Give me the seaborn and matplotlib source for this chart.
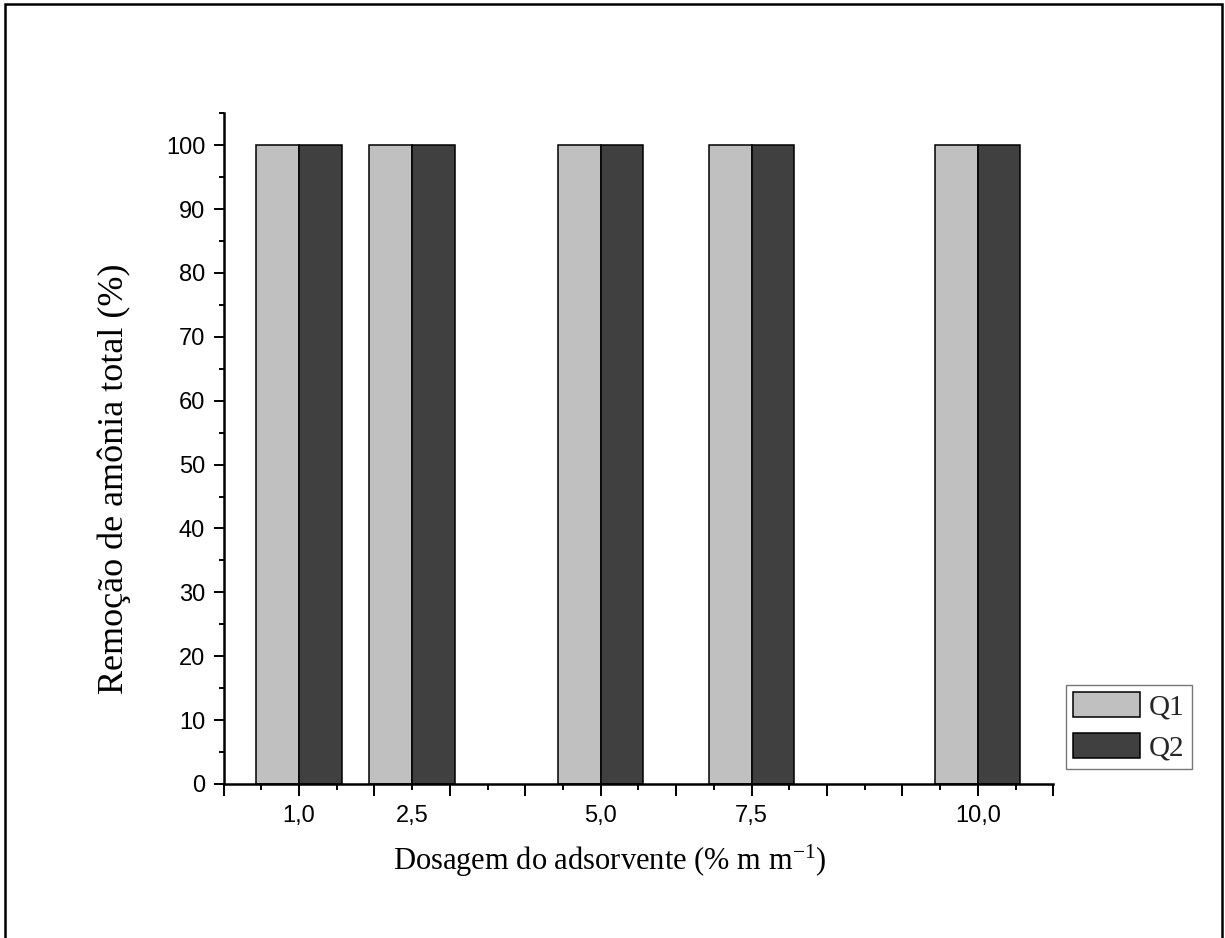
import numpy as np
import pandas as pd
import seaborn as sns
import matplotlib.pyplot as plt
from matplotlib.patches import Rectangle, Patch
from matplotlib.ticker import MultipleLocator, NullFormatter, NullLocator

# Adsorbent dosage groups: plotted x value and printed label
dosagem_x = [1.0, 2.5, 5.0, 7.0, 10.0]
dosagem_labels = ["1,0", "2,5", "5,0", "7,5", "10,0"]

# Total ammonia removal (%) for each flow condition
remocao_q1 = [100, 100, 100, 100, 100]
remocao_q2 = [100, 100, 100, 100, 100]
series_names = ["Q1", "Q2"]
series_colors = ["#c0c0c0", "#404040"]

y_ticks = [0, 10, 20, 30, 40, 50, 60, 70, 80, 90, 100]

df = pd.DataFrame({
    "dosagem": dosagem_x * 2,
    "remocao": remocao_q1 + remocao_q2,
    "serie": [series_names[0]] * len(dosagem_x) + [series_names[1]] * len(dosagem_x),
})

sns.set_theme(style="ticks")
plt.rcParams["font.family"] = ["Liberation Sans", "DejaVu Sans"]
plt.rcParams["mathtext.fontset"] = "custom"
plt.rcParams["mathtext.rm"] = "Liberation Serif"
plt.rcParams["mathtext.it"] = "Liberation Serif:italic"
plt.rcParams["mathtext.default"] = "regular"

W, H = 1225, 938
fig = plt.figure(figsize=(W / 100, H / 100), dpi=100)
fig.patch.set_facecolor("white")

left, right, bottom, top = 223.5 / W, 1053.3 / W, 1 - 784 / H, 1 - 113.3 / H
ax = fig.add_axes([left, bottom, right - left, top - bottom])
ax.set_facecolor("white")

sns.barplot(
    data=df, x="dosagem", y="remocao", hue="serie",
    native_scale=True, width=0.753, palette=series_colors,
    saturation=1, edgecolor="black", linewidth=1.1,
    errorbar=None, legend=False, ax=ax,
)

ax.set_xlim(0, 11)
ax.set_ylim(0, 105)

for side in ["top", "right"]:
    ax.spines[side].set_visible(False)
for side in ["left", "bottom"]:
    ax.spines[side].set_linewidth(1.8)
    ax.spines[side].set_color("black")

# x axis: dosage labels under each group, short ticks every half unit
ax.set_xticks(dosagem_x, dosagem_labels)
ax.tick_params(axis="x", which="major", length=0, pad=15, labelsize=17, labelcolor="black")
ax.xaxis.set_minor_locator(MultipleLocator(0.5))
ax.xaxis.remove_overlapping_locs = False
ax.tick_params(axis="x", which="minor", direction="out", length=4.5, width=1.4, color="black")

# long ticks every unit
sec = ax.secondary_xaxis("bottom")
sec.xaxis.set_major_locator(MultipleLocator(1))
sec.xaxis.set_minor_locator(NullLocator())
sec.xaxis.set_major_formatter(NullFormatter())
sec.tick_params(axis="x", which="major", direction="out", length=8.6, width=1.4, color="black")
sec.spines["bottom"].set_visible(False)

# y axis
ax.set_yticks(y_ticks)
ax.yaxis.set_minor_locator(MultipleLocator(5))
ax.tick_params(axis="y", which="major", direction="out", length=7.2, width=1.4,
               color="black", labelsize=17, labelcolor="black", pad=6)
ax.tick_params(axis="y", which="minor", direction="out", length=3.6, width=1.4, color="black")

serif = ["Liberation Serif", "DejaVu Serif"]
ax.set_ylabel("Remoção de amônia total (%)", fontsize=26, family=serif, color="black")
ax.yaxis.set_label_coords(-0.111, 0.455)
ax.set_xlabel("Dosagem do adsorvente (% m m$^{-1}$)", fontsize=22, family=serif, color="black")
ax.xaxis.set_label_coords(0.465, -0.088)

handles = [Patch(facecolor=c, edgecolor="black", linewidth=1.1) for c in series_colors]
leg = fig.legend(
    handles, series_names, loc="upper left",
    bbox_to_anchor=(1066 / W, 1 - 685 / H), bbox_transform=fig.transFigure,
    frameon=True, fancybox=False, borderaxespad=0, borderpad=0.25,
    handlelength=2.3, handleheight=0.95, handletextpad=0.3, labelspacing=0.42,
    prop={"family": serif, "size": 21},
    edgecolor="#555555",
)
leg.get_frame().set_linewidth(1.0)

# outer frame around the figure (open at the bottom edge)
fig.add_artist(Rectangle((5 / W, -0.05), (1222 - 5) / W, 1.05 - 4 / H,
                         transform=fig.transFigure, fill=False,
                         edgecolor="black", linewidth=1.8, clip_on=False))

fig.savefig("out.png", dpi=100, facecolor="white")
